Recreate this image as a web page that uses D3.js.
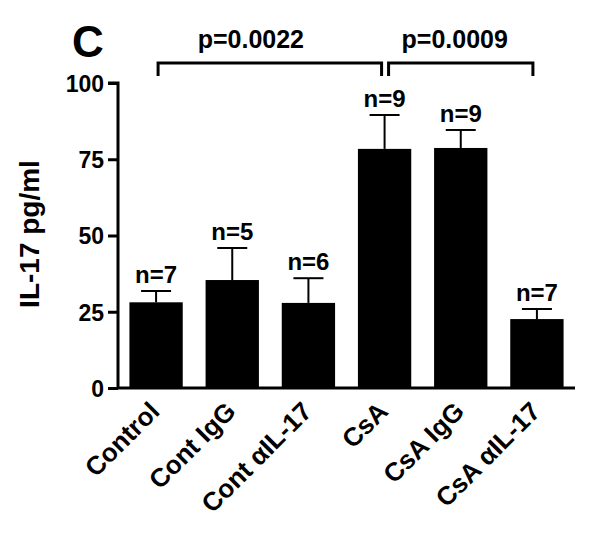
<!DOCTYPE html>
<html lang="en">
<head>
<meta charset="utf-8">
<title>IL-17 bars</title>
<script src="https://cdn.jsdelivr.net/npm/d3@7"></script>
<style>
body { margin: 0; background: #fff; }
text { font-family: "Liberation Sans", Arial, sans-serif; font-weight: bold; fill: #000; }
</style>
</head>
<body>
<script>
// data
var groups = ['Control', 'Cont IgG', 'Cont \u03b1IL-17', 'CsA', 'CsA IgG', 'CsA \u03b1IL-17'];
var means = [28.1, 35.4, 27.9, 78.4, 78.7, 22.6];
var sems = [3.7, 10.5, 8.1, 11.1, 5.9, 3.3];
var counts = [7, 5, 6, 9, 9, 7];
var yTicks = [0, 25, 50, 75, 100];
var compFrom = [0, 3];
var compTo = [3, 5];
var pLabels = ['p=0.0022', 'p=0.0009'];

var w = 600, h = 533;

var svg = d3.select('body').append('svg')
    .attr('width', w)
    .attr('height', h);

var x = d3.scaleBand()
    .domain(groups)
    .range([118, 575])
    .paddingInner(0.3)
    .paddingOuter(0.15);

var y = d3.scaleLinear()
    .domain([0, 100])
    .range([388, 83]);

// bars
svg.selectAll('rect.bar')
    .data(groups)
    .enter()
    .append('rect')
    .attr('class', 'bar')
    .attr('x', function(d) { return x(d); })
    .attr('y', function(d, i) { return y(means[i]); })
    .attr('width', x.bandwidth())
    .attr('height', function(d, i) { return y(0) - y(means[i]); })
    .attr('fill', '#000');

// error bars (upper only)
var cx = function(d) { return x(d) + x.bandwidth() / 2; };
var err = svg.append('g').attr('stroke', '#000').attr('stroke-width', 2);
groups.forEach(function(d, i) {
    err.append('line')
        .attr('x1', cx(d)).attr('x2', cx(d))
        .attr('y1', y(means[i])).attr('y2', y(means[i] + sems[i]));
    err.append('line')
        .attr('x1', cx(d) - 15).attr('x2', cx(d) + 15)
        .attr('y1', y(means[i] + sems[i])).attr('y2', y(means[i] + sems[i]));
});

// n labels
svg.selectAll('text.n')
    .data(groups)
    .enter()
    .append('text')
    .attr('class', 'n')
    .attr('x', cx)
    .attr('y', function(d, i) { return y(means[i] + sems[i]) - 8; })
    .attr('text-anchor', 'middle')
    .style('font-size', '24px')
    .text(function(d, i) { return 'n=' + counts[i]; });

// y axis
var yAxis = svg.append('g')
    .attr('transform', 'translate(118,0)')
    .call(d3.axisLeft(y).tickValues(yTicks).tickSize(10).tickPadding(4));
yAxis.select('.domain').attr('stroke-width', 3).attr('d', 'M-10,' + y(100) + 'H0V' + y(0));
yAxis.selectAll('.tick line').attr('stroke-width', 3);
yAxis.selectAll('.tick text')
    .style('font-size', '23px')
    .style('font-family', '"Liberation Sans", Arial, sans-serif')
    .style('font-weight', 'bold')
    .attr('dy', '0.36em');

// x axis line
svg.append('line')
    .attr('x1', 117).attr('x2', 575)
    .attr('y1', y(0)).attr('y2', y(0))
    .attr('stroke', '#000')
    .attr('stroke-width', 3);

// x labels, rotated
svg.selectAll('text.xl')
    .data(groups)
    .enter()
    .append('text')
    .attr('class', 'xl')
    .attr('text-anchor', 'end')
    .style('font-size', '26px')
    .attr('transform', function(d) {
        return 'translate(' + (cx(d) + 5) + ',413) rotate(-45)';
    })
    .text(function(d) { return d; });

// y title
svg.append('text')
    .attr('transform', 'translate(39,234) rotate(-90)')
    .attr('text-anchor', 'middle')
    .style('font-size', '28px')
    .text('IL-17 pg/ml');

// panel letter
svg.append('text')
    .attr('x', 72)
    .attr('y', 57)
    .style('font-size', '44px')
    .text('C');

// significance brackets
var bTop = 63, bDrop = 13;
var insetL = [2, 4], insetR = [3, 4], textDx = [-19, -6];
pLabels.forEach(function(p, k) {
    var x1 = cx(groups[compFrom[k]]) + insetL[k];
    var x2 = cx(groups[compTo[k]]) - insetR[k];
    svg.append('path')
        .attr('d', 'M' + x1 + ',' + (bTop + bDrop) + 'V' + bTop + 'H' + x2 + 'V' + (bTop + bDrop))
        .attr('fill', 'none')
        .attr('stroke', '#000')
        .attr('stroke-width', 3);
    svg.append('text')
        .attr('x', (x1 + x2) / 2 + textDx[k])
        .attr('y', 48)
        .attr('text-anchor', 'middle')
        .style('font-size', '25px')
        .text(p);
});
</script>
</body>
</html>
